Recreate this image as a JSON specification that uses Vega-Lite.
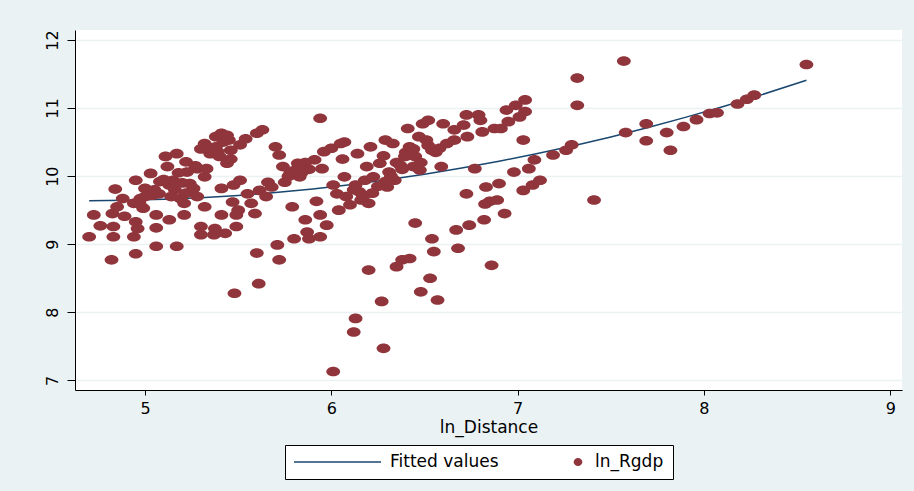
{
 "$schema": "https://vega.github.io/schema/vega-lite/v6.json",
 "width": 827,
 "height": 360,
 "autosize": {"type": "none"},
 "padding": {"left": 75, "top": 30, "right": 12, "bottom": 101},
 "background": "#EAF2F3",
 "config": {"view": {"fill": "#ffffff", "stroke": null}, "font": "DejaVu Sans"},
 "datasets": {
  "fit": [
   {"ln_Distance": 4.70, "fitted": 9.640}, {"ln_Distance": 4.9, "fitted": 9.645}, {"ln_Distance": 5.1, "fitted": 9.659},
   {"ln_Distance": 5.3, "fitted": 9.683}, {"ln_Distance": 5.5, "fitted": 9.716}, {"ln_Distance": 5.7, "fitted": 9.759},
   {"ln_Distance": 5.9, "fitted": 9.812}, {"ln_Distance": 6.1, "fitted": 9.874}, {"ln_Distance": 6.3, "fitted": 9.946},
   {"ln_Distance": 6.5, "fitted": 10.027}, {"ln_Distance": 6.7, "fitted": 10.118}, {"ln_Distance": 6.9, "fitted": 10.218},
   {"ln_Distance": 7.1, "fitted": 10.328}, {"ln_Distance": 7.3, "fitted": 10.447}, {"ln_Distance": 7.5, "fitted": 10.576},
   {"ln_Distance": 7.7, "fitted": 10.715}, {"ln_Distance": 7.9, "fitted": 10.863}, {"ln_Distance": 8.1, "fitted": 11.020},
   {"ln_Distance": 8.3, "fitted": 11.187}, {"ln_Distance": 8.55, "fitted": 11.410}
  ],
  "pts": [
   {"ln_Distance":4.70,"ln_Rgdp":9.11},{"ln_Distance":4.725,"ln_Rgdp":9.43},{"ln_Distance":4.76,"ln_Rgdp":9.27},{"ln_Distance":4.82,"ln_Rgdp":8.77},
   {"ln_Distance":4.825,"ln_Rgdp":9.45},{"ln_Distance":4.83,"ln_Rgdp":9.11},{"ln_Distance":4.84,"ln_Rgdp":9.81},{"ln_Distance":4.85,"ln_Rgdp":9.55},
   {"ln_Distance":4.88,"ln_Rgdp":9.67},{"ln_Distance":4.89,"ln_Rgdp":9.41},{"ln_Distance":4.83,"ln_Rgdp":9.26},{"ln_Distance":4.94,"ln_Rgdp":9.11},
   {"ln_Distance":4.95,"ln_Rgdp":8.86},{"ln_Distance":4.95,"ln_Rgdp":9.94},{"ln_Distance":4.95,"ln_Rgdp":9.33},{"ln_Distance":4.96,"ln_Rgdp":9.23},
   {"ln_Distance":4.94,"ln_Rgdp":9.60},{"ln_Distance":4.975,"ln_Rgdp":9.67},{"ln_Distance":4.99,"ln_Rgdp":9.53},{"ln_Distance":5.0,"ln_Rgdp":9.82},
   {"ln_Distance":5.03,"ln_Rgdp":10.04},{"ln_Distance":5.04,"ln_Rgdp":9.72},{"ln_Distance":5.06,"ln_Rgdp":9.24},{"ln_Distance":5.06,"ln_Rgdp":8.97},
   {"ln_Distance":5.06,"ln_Rgdp":9.43},{"ln_Distance":5.075,"ln_Rgdp":9.74},{"ln_Distance":5.08,"ln_Rgdp":9.92},{"ln_Distance":5.11,"ln_Rgdp":10.29},
   {"ln_Distance":5.12,"ln_Rgdp":10.14},{"ln_Distance":5.13,"ln_Rgdp":9.36},{"ln_Distance":5.13,"ln_Rgdp":9.87},{"ln_Distance":5.15,"ln_Rgdp":9.94},
   {"ln_Distance":5.16,"ln_Rgdp":9.80},{"ln_Distance":5.17,"ln_Rgdp":10.33},{"ln_Distance":5.17,"ln_Rgdp":8.97},{"ln_Distance":5.19,"ln_Rgdp":9.67},
   {"ln_Distance":5.21,"ln_Rgdp":9.60},{"ln_Distance":5.21,"ln_Rgdp":9.43},{"ln_Distance":5.22,"ln_Rgdp":10.21},{"ln_Distance":5.225,"ln_Rgdp":10.06},
   {"ln_Distance":5.24,"ln_Rgdp":9.89},{"ln_Distance":5.26,"ln_Rgdp":9.82},{"ln_Distance":5.28,"ln_Rgdp":9.70},{"ln_Distance":5.28,"ln_Rgdp":10.11},
   {"ln_Distance":5.30,"ln_Rgdp":9.26},{"ln_Distance":5.30,"ln_Rgdp":9.14},{"ln_Distance":5.32,"ln_Rgdp":9.55},{"ln_Distance":5.32,"ln_Rgdp":10.48},
   {"ln_Distance":5.32,"ln_Rgdp":9.99},{"ln_Distance":5.33,"ln_Rgdp":10.11},{"ln_Distance":5.35,"ln_Rgdp":10.33},{"ln_Distance":5.37,"ln_Rgdp":9.14},
   {"ln_Distance":5.375,"ln_Rgdp":9.23},{"ln_Distance":5.38,"ln_Rgdp":10.58},{"ln_Distance":5.38,"ln_Rgdp":10.43},{"ln_Distance":5.40,"ln_Rgdp":10.29},
   {"ln_Distance":5.41,"ln_Rgdp":10.63},{"ln_Distance":5.41,"ln_Rgdp":9.43},{"ln_Distance":5.41,"ln_Rgdp":9.82},{"ln_Distance":5.43,"ln_Rgdp":9.16},
   {"ln_Distance":5.44,"ln_Rgdp":10.19},{"ln_Distance":5.45,"ln_Rgdp":10.53},{"ln_Distance":5.46,"ln_Rgdp":10.38},{"ln_Distance":5.47,"ln_Rgdp":9.62},
   {"ln_Distance":5.475,"ln_Rgdp":9.87},{"ln_Distance":5.48,"ln_Rgdp":8.28},{"ln_Distance":5.49,"ln_Rgdp":9.26},{"ln_Distance":5.49,"ln_Rgdp":9.43},
   {"ln_Distance":5.50,"ln_Rgdp":9.50},{"ln_Distance":5.51,"ln_Rgdp":9.94},{"ln_Distance":5.51,"ln_Rgdp":10.46},{"ln_Distance":5.54,"ln_Rgdp":10.55},
   {"ln_Distance":5.55,"ln_Rgdp":9.74},{"ln_Distance":5.57,"ln_Rgdp":9.60},{"ln_Distance":5.59,"ln_Rgdp":9.45},{"ln_Distance":5.60,"ln_Rgdp":8.87},
   {"ln_Distance":5.61,"ln_Rgdp":8.42},{"ln_Distance":5.60,"ln_Rgdp":10.63},{"ln_Distance":5.615,"ln_Rgdp":9.79},{"ln_Distance":5.63,"ln_Rgdp":10.68},
   {"ln_Distance":5.65,"ln_Rgdp":9.70},{"ln_Distance":5.66,"ln_Rgdp":9.91},{"ln_Distance":5.68,"ln_Rgdp":9.84},{"ln_Distance":5.70,"ln_Rgdp":10.43},
   {"ln_Distance":5.71,"ln_Rgdp":8.99},{"ln_Distance":5.72,"ln_Rgdp":8.77},{"ln_Distance":5.72,"ln_Rgdp":10.31},{"ln_Distance":5.74,"ln_Rgdp":10.14},
   {"ln_Distance":5.75,"ln_Rgdp":9.91},{"ln_Distance":5.77,"ln_Rgdp":10.00},{"ln_Distance":5.79,"ln_Rgdp":9.55},{"ln_Distance":5.80,"ln_Rgdp":9.08},
   {"ln_Distance":5.80,"ln_Rgdp":10.08},{"ln_Distance":5.82,"ln_Rgdp":10.19},{"ln_Distance":5.83,"ln_Rgdp":9.99},{"ln_Distance":5.85,"ln_Rgdp":10.11},
   {"ln_Distance":5.86,"ln_Rgdp":9.36},{"ln_Distance":5.87,"ln_Rgdp":9.18},{"ln_Distance":5.88,"ln_Rgdp":9.08},{"ln_Distance":5.91,"ln_Rgdp":10.24},
   {"ln_Distance":5.92,"ln_Rgdp":9.63},{"ln_Distance":5.94,"ln_Rgdp":9.11},{"ln_Distance":5.94,"ln_Rgdp":10.85},{"ln_Distance":5.94,"ln_Rgdp":9.43},
   {"ln_Distance":5.95,"ln_Rgdp":10.11},{"ln_Distance":5.96,"ln_Rgdp":10.36},{"ln_Distance":5.975,"ln_Rgdp":9.28},{"ln_Distance":6.0,"ln_Rgdp":10.41},
   {"ln_Distance":6.01,"ln_Rgdp":9.87},{"ln_Distance":6.01,"ln_Rgdp":7.13},{"ln_Distance":6.03,"ln_Rgdp":9.74},{"ln_Distance":6.04,"ln_Rgdp":9.50},
   {"ln_Distance":6.05,"ln_Rgdp":10.48},{"ln_Distance":6.06,"ln_Rgdp":10.25},{"ln_Distance":6.07,"ln_Rgdp":10.50},{"ln_Distance":6.07,"ln_Rgdp":9.99},
   {"ln_Distance":6.08,"ln_Rgdp":9.70},{"ln_Distance":6.10,"ln_Rgdp":9.58},{"ln_Distance":6.12,"ln_Rgdp":7.71},{"ln_Distance":6.13,"ln_Rgdp":7.91},
   {"ln_Distance":6.13,"ln_Rgdp":9.87},{"ln_Distance":6.14,"ln_Rgdp":10.33},{"ln_Distance":6.15,"ln_Rgdp":9.77},{"ln_Distance":6.16,"ln_Rgdp":9.65},
   {"ln_Distance":6.18,"ln_Rgdp":9.94},{"ln_Distance":6.19,"ln_Rgdp":10.14},{"ln_Distance":6.20,"ln_Rgdp":9.60},{"ln_Distance":6.20,"ln_Rgdp":8.62},
   {"ln_Distance":6.21,"ln_Rgdp":10.43},{"ln_Distance":6.225,"ln_Rgdp":9.99},{"ln_Distance":6.26,"ln_Rgdp":10.19},{"ln_Distance":6.27,"ln_Rgdp":8.16},
   {"ln_Distance":6.28,"ln_Rgdp":7.47},{"ln_Distance":6.29,"ln_Rgdp":10.53},{"ln_Distance":6.29,"ln_Rgdp":9.92},{"ln_Distance":6.30,"ln_Rgdp":9.84},
   {"ln_Distance":6.31,"ln_Rgdp":10.06},{"ln_Distance":6.33,"ln_Rgdp":10.48},{"ln_Distance":6.34,"ln_Rgdp":9.94},{"ln_Distance":6.35,"ln_Rgdp":8.67},
   {"ln_Distance":6.37,"ln_Rgdp":10.16},{"ln_Distance":6.38,"ln_Rgdp":8.77},{"ln_Distance":6.395,"ln_Rgdp":10.29},{"ln_Distance":6.41,"ln_Rgdp":10.70},
   {"ln_Distance":6.42,"ln_Rgdp":8.79},{"ln_Distance":6.42,"ln_Rgdp":10.43},{"ln_Distance":6.44,"ln_Rgdp":10.14},{"ln_Distance":6.45,"ln_Rgdp":9.31},
   {"ln_Distance":6.45,"ln_Rgdp":10.29},{"ln_Distance":6.47,"ln_Rgdp":10.58},{"ln_Distance":6.475,"ln_Rgdp":10.09},{"ln_Distance":6.48,"ln_Rgdp":8.30},
   {"ln_Distance":6.49,"ln_Rgdp":10.77},{"ln_Distance":6.51,"ln_Rgdp":10.53},{"ln_Distance":6.52,"ln_Rgdp":10.82},{"ln_Distance":6.53,"ln_Rgdp":8.50},
   {"ln_Distance":6.54,"ln_Rgdp":10.38},{"ln_Distance":6.54,"ln_Rgdp":9.08},{"ln_Distance":6.55,"ln_Rgdp":8.89},{"ln_Distance":6.57,"ln_Rgdp":8.18},
   {"ln_Distance":6.58,"ln_Rgdp":10.41},{"ln_Distance":6.59,"ln_Rgdp":10.14},{"ln_Distance":6.60,"ln_Rgdp":10.77},{"ln_Distance":6.62,"ln_Rgdp":10.48},
   {"ln_Distance":6.66,"ln_Rgdp":10.53},{"ln_Distance":6.66,"ln_Rgdp":10.68},{"ln_Distance":6.67,"ln_Rgdp":9.21},{"ln_Distance":6.68,"ln_Rgdp":8.94},
   {"ln_Distance":6.71,"ln_Rgdp":10.75},{"ln_Distance":6.725,"ln_Rgdp":10.90},{"ln_Distance":6.725,"ln_Rgdp":9.74},{"ln_Distance":6.73,"ln_Rgdp":10.58},
   {"ln_Distance":6.74,"ln_Rgdp":9.28},{"ln_Distance":6.77,"ln_Rgdp":10.11},{"ln_Distance":6.79,"ln_Rgdp":10.90},{"ln_Distance":6.80,"ln_Rgdp":10.82},
   {"ln_Distance":6.81,"ln_Rgdp":10.65},{"ln_Distance":6.82,"ln_Rgdp":9.36},{"ln_Distance":6.825,"ln_Rgdp":9.59},{"ln_Distance":6.83,"ln_Rgdp":9.84},
   {"ln_Distance":6.85,"ln_Rgdp":9.63},{"ln_Distance":6.86,"ln_Rgdp":8.69},{"ln_Distance":6.875,"ln_Rgdp":10.70},{"ln_Distance":6.89,"ln_Rgdp":9.65},
   {"ln_Distance":6.90,"ln_Rgdp":9.89},{"ln_Distance":6.91,"ln_Rgdp":10.70},{"ln_Distance":6.93,"ln_Rgdp":9.45},{"ln_Distance":6.94,"ln_Rgdp":10.97},
   {"ln_Distance":6.95,"ln_Rgdp":10.80},{"ln_Distance":6.98,"ln_Rgdp":10.06},{"ln_Distance":6.99,"ln_Rgdp":11.04},{"ln_Distance":7.01,"ln_Rgdp":10.87},
   {"ln_Distance":7.03,"ln_Rgdp":10.53},{"ln_Distance":7.03,"ln_Rgdp":9.79},{"ln_Distance":7.04,"ln_Rgdp":11.12},{"ln_Distance":7.04,"ln_Rgdp":10.95},
   {"ln_Distance":7.06,"ln_Rgdp":10.11},{"ln_Distance":7.08,"ln_Rgdp":9.87},{"ln_Distance":7.09,"ln_Rgdp":10.24},{"ln_Distance":7.12,"ln_Rgdp":9.94},
   {"ln_Distance":7.19,"ln_Rgdp":10.31},{"ln_Distance":7.26,"ln_Rgdp":10.38},{"ln_Distance":7.29,"ln_Rgdp":10.46},{"ln_Distance":7.32,"ln_Rgdp":11.44},
   {"ln_Distance":7.32,"ln_Rgdp":11.04},{"ln_Distance":7.41,"ln_Rgdp":9.65},{"ln_Distance":7.57,"ln_Rgdp":11.69},{"ln_Distance":7.58,"ln_Rgdp":10.64},
   {"ln_Distance":7.69,"ln_Rgdp":10.77},{"ln_Distance":7.69,"ln_Rgdp":10.52},{"ln_Distance":7.80,"ln_Rgdp":10.64},{"ln_Distance":7.82,"ln_Rgdp":10.38},
   {"ln_Distance":7.89,"ln_Rgdp":10.73},{"ln_Distance":7.96,"ln_Rgdp":10.83},{"ln_Distance":8.03,"ln_Rgdp":10.92},{"ln_Distance":8.07,"ln_Rgdp":10.93},
   {"ln_Distance":8.18,"ln_Rgdp":11.06},{"ln_Distance":8.23,"ln_Rgdp":11.13},{"ln_Distance":8.27,"ln_Rgdp":11.19},{"ln_Distance":8.55,"ln_Rgdp":11.64},
   {"ln_Distance":5.36,"ln_Rgdp":10.40},{"ln_Distance":5.42,"ln_Rgdp":10.50},{"ln_Distance":5.44,"ln_Rgdp":10.60},{"ln_Distance":5.39,"ln_Rgdp":10.36},
   {"ln_Distance":5.46,"ln_Rgdp":10.25},{"ln_Distance":5.30,"ln_Rgdp":10.40},{"ln_Distance":5.27,"ln_Rgdp":10.15},{"ln_Distance":5.18,"ln_Rgdp":10.05},
   {"ln_Distance":5.10,"ln_Rgdp":9.95},{"ln_Distance":5.05,"ln_Rgdp":9.80},{"ln_Distance":5.00,"ln_Rgdp":9.70},{"ln_Distance":4.97,"ln_Rgdp":9.60},
   {"ln_Distance":5.14,"ln_Rgdp":9.70},{"ln_Distance":5.20,"ln_Rgdp":9.90},{"ln_Distance":5.22,"ln_Rgdp":9.75},{"ln_Distance":6.35,"ln_Rgdp":10.20},
   {"ln_Distance":6.40,"ln_Rgdp":10.35},{"ln_Distance":6.44,"ln_Rgdp":10.40},{"ln_Distance":6.48,"ln_Rgdp":10.20},{"ln_Distance":6.52,"ln_Rgdp":10.45},
   {"ln_Distance":6.56,"ln_Rgdp":10.35},{"ln_Distance":6.38,"ln_Rgdp":10.10},{"ln_Distance":6.32,"ln_Rgdp":10.00},{"ln_Distance":6.25,"ln_Rgdp":9.85},
   {"ln_Distance":6.22,"ln_Rgdp":9.75},{"ln_Distance":6.17,"ln_Rgdp":9.70},{"ln_Distance":6.12,"ln_Rgdp":9.80},{"ln_Distance":6.28,"ln_Rgdp":10.30},
   {"ln_Distance":5.86,"ln_Rgdp":10.20},{"ln_Distance":5.84,"ln_Rgdp":10.05},{"ln_Distance":5.78,"ln_Rgdp":10.05},{"ln_Distance":5.88,"ln_Rgdp":10.10}
  ]
 },
 "layer": [
  {
   "data": {"name": "fit"},
   "mark": {"type": "line", "strokeWidth": 1.5},
   "encoding": {
    "x": {"field": "ln_Distance", "type": "quantitative",
          "scale": {"domain": [4.624, 9.063], "nice": false, "zero": false},
          "axis": {"values": [5, 6, 7, 8, 9], "format": "d", "grid": false, "domainColor": "#000000", "tickColor": "#000000", "tickSize": 5,
                   "labelFont": "DejaVu Sans", "labelFontSize": 16, "labelColor": "#000000", "labelPadding": 5,
                   "title": "ln_Distance", "titleFont": "DejaVu Sans", "titleFontSize": 17, "titleFontWeight": "normal", "titleColor": "#000000", "titlePadding": 3}},
    "y": {"field": "fitted", "type": "quantitative",
          "scale": {"domain": [6.858, 12.147], "nice": false, "zero": false},
          "axis": {"values": [7, 8, 9, 10, 11, 12], "format": "d", "grid": true, "gridColor": "#EAF2F3", "gridWidth": 1.5,
                   "domainColor": "#000000", "tickColor": "#000000", "tickSize": 8, "labelAngle": 270,
                   "labelFont": "DejaVu Sans", "labelFontSize": 16, "labelColor": "#000000", "labelPadding": 7, "title": null}},
    "color": {"datum": "Fitted values", "type": "nominal",
              "scale": {"domain": ["Fitted values", "ln_Rgdp"], "range": ["#1A476F", "#90353B"]},
              "legend": {"title": null, "orient": "none", "legendX": 210, "legendY": 415, "direction": "horizontal",
                         "padding": 9, "strokeColor": "#000000", "fillColor": "#ffffff", "cornerRadius": 0,
                         "symbolSize": 7569, "clipHeight": 16, "labelOffset": 9, "columnPadding": -21,
                         "labelFont": "DejaVu Sans", "labelFontSize": 17, "labelColor": "#000000", "symbolStrokeWidth": 0,
                         "encode": {"symbols": {"update": {
                           "shape": {"signal": "datum.value === 'Fitted values' ? 'M-1,-0.018H1V0.018H-1Z' : 'M0.716,0A0.1,0.092 0 1,0 0.916,0A0.1,0.092 0 1,0 0.716,0Z'"},
                           "fill": {"signal": "datum.value === 'Fitted values' ? '#1A476F' : '#90353B'"},
                           "stroke": {"value": "transparent"},
                           "opacity": {"value": 1}}}}}}
   }
  },
  {
   "data": {"name": "pts"},
   "mark": {"type": "point", "filled": true, "opacity": 1, "size": 190, "shape": "M-1,0A1,0.7 0 1,0 1,0A1,0.7 0 1,0 -1,0Z"},
   "encoding": {
    "x": {"field": "ln_Distance", "type": "quantitative"},
    "y": {"field": "ln_Rgdp", "type": "quantitative"},
    "color": {"datum": "ln_Rgdp", "type": "nominal"}
   }
  }
 ]
}
